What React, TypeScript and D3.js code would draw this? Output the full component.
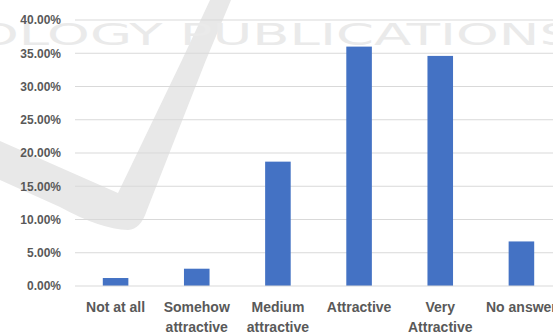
import React from "react";
import * as d3 from "d3";

// Survey answers and their shares
const categories: string[][] = [
  ["Not at all"],
  ["Somehow", "attractive"],
  ["Medium", "attractive"],
  ["Attractive"],
  ["Very", "Attractive"],
  ["No answer"],
];
const shares: number[] = [0.012, 0.026, 0.187, 0.36, 0.346, 0.067];
const yTicks: number[] = [0, 0.05, 0.1, 0.15, 0.2, 0.25, 0.3, 0.35, 0.4];

const W = 553;
const H = 335;
const plotLeft = 75;
const plotRight = 562;
const plotTop = 20;
const plotBottom = 286;

const keys = categories.map((c) => c.join(" "));

export default function App() {
  const x = d3
    .scaleBand<string>()
    .domain(keys)
    .range([plotLeft, plotRight])
    .paddingInner(0.685)
    .paddingOuter(0.3425);
  const y = d3.scaleLinear().domain([0, 0.4]).range([plotBottom, plotTop]);
  const fmt = d3.format(".2%");

  // Faint publisher mark in the background
  const markPath =
    "M210,0 L231,0 L206,60 L147,210 Q141,229 128,230 Q100,229 60,207 L0,180 L0,141 L118,193 L182,60 Z";

  return (
    <svg
      width={W}
      height={H}
      style={{ position: "absolute", left: 0, top: 0, background: "#fff" }}
    >
      <g>
        <path d={markPath} fill="#e8e8e8" />
        <text
          x={-24}
          y={45}
          fontFamily="DejaVu Sans"
          fontSize={31}
          fill="#eaeaea"
          textLength={598}
          lengthAdjust="spacingAndGlyphs"
        >
          OLOGY PUBLICATIONS
        </text>
      </g>

      {yTicks.map((t) => (
        <g key={t}>
          {t > 0 && (
            <line
              x1={plotLeft}
              x2={plotRight}
              y1={y(t)}
              y2={y(t)}
              stroke="#d9d9d9"
              strokeWidth={1}
            />
          )}
          <text
            x={61}
            y={y(t)}
            dy="0.36em"
            textAnchor="end"
            fontFamily="Liberation Sans, Arial, sans-serif"
            fontWeight="bold"
            fontSize={12}
            fill="#595959"
          >
            {fmt(t)}
          </text>
        </g>
      ))}

      {shares.map((v, i) => (
        <rect
          key={keys[i]}
          x={x(keys[i])}
          y={y(v)}
          width={x.bandwidth()}
          height={y(0) - y(v)}
          fill="#4472c4"
        />
      ))}

      <line
        x1={plotLeft}
        x2={plotRight}
        y1={y(0)}
        y2={y(0)}
        stroke="#d9d9d9"
        strokeWidth={1}
      />

      {categories.map((lines, i) => (
        <text
          key={keys[i]}
          x={(x(keys[i]) ?? 0) + x.bandwidth() / 2}
          y={312}
          textAnchor="middle"
          fontFamily="Liberation Sans, Arial, sans-serif"
          fontWeight="bold"
          fontSize={14}
          fill="#595959"
        >
          {lines.map((l, j) => (
            <tspan key={j} x={(x(keys[i]) ?? 0) + x.bandwidth() / 2} dy={j === 0 ? 0 : 20}>
              {l}
            </tspan>
          ))}
        </text>
      ))}
    </svg>
  );
}
